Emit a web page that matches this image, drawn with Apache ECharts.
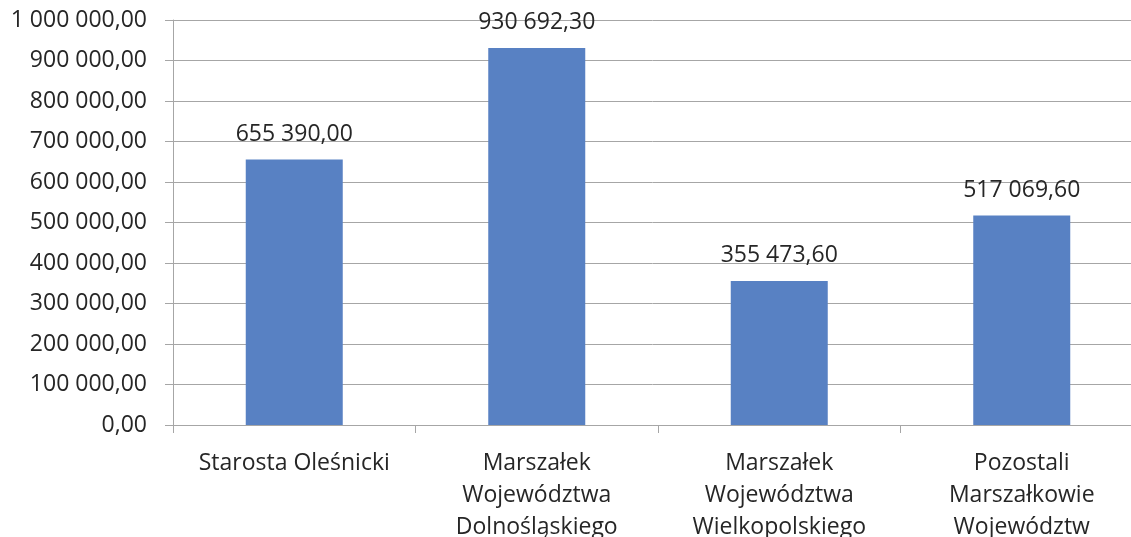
<!DOCTYPE html>
<html><head><meta charset="utf-8">
<script src="https://cdn.jsdelivr.net/npm/echarts@6/dist/echarts.min.js"></script>
<style>html,body{margin:0;padding:0;background:#fff}#c{width:1131px;height:537px}</style>
</head><body><div id="c"></div>
<script>
const categories = ["Starosta Oleśnicki", "Marszałek\nWojewództwa\nDolnośląskiego", "Marszałek\nWojewództwa\nWielkopolskiego", "Pozostali\nMarszałkowie\nWojewództw"];
const values = [655390.00, 930692.30, 355473.60, 517069.60];

function fmt(v) {
  const parts = Number(v).toFixed(2).split('.');
  return parts[0].replace(/\B(?=(\d{3})+(?!\d))/g, ' ') + ',' + parts[1];
}
const FONT = '"Open Sans", "Noto Sans", sans-serif';
const chart = echarts.init(document.getElementById('c'), null, {renderer: 'canvas'});
chart.setOption({
  animation: false,
  grid: {left: 173, right: -12, top: 20, bottom: 112, containLabel: false, outerBoundsMode: 'none'},
  xAxis: {
    type: 'category', data: categories,
    axisLine: {lineStyle: {color: '#a6a6a6', width: 1}},
    axisTick: {show: true, length: 8, lineStyle: {color: '#a6a6a6'}},
    axisLabel: {color: '#262626', fontSize: 23, fontFamily: FONT, lineHeight: 32, margin: 22, interval: 0}
  },
  yAxis: {
    type: 'value', min: 0, max: 1000000, interval: 100000,
    axisLine: {show: true, lineStyle: {color: '#a6a6a6', width: 1}},
    axisTick: {show: true, length: 8, lineStyle: {color: '#a6a6a6'}},
    splitLine: {lineStyle: {color: '#a6a6a6', width: 1}},
    axisLabel: {color: '#262626', fontSize: 23, fontFamily: FONT, margin: 26, formatter: fmt}
  },
  series: [{
    type: 'bar', data: values, barWidth: 97,
    itemStyle: {color: '#5881C3'},
    label: {show: true, position: 'top', distance: 14, color: '#262626', fontSize: 23, fontFamily: FONT, formatter: p => fmt(p.value)}
  }]
});
</script></body></html>
